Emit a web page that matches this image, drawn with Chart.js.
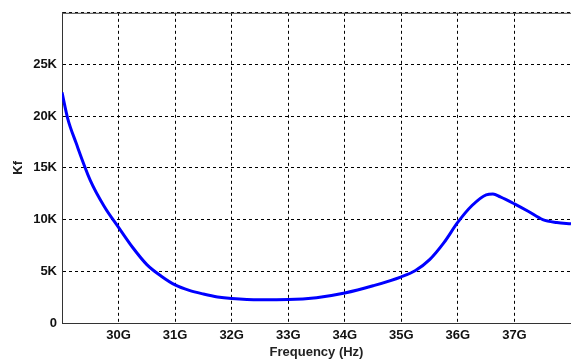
<!DOCTYPE html>
<html>
<head>
<meta charset="utf-8">
<script src="https://cdn.jsdelivr.net/npm/chart.js@4"></script>
<style>
  body { margin: 0; background: #fff; }
  #wrap { width: 571px; height: 360px; }
</style>
</head>
<body>
<div id="wrap"><canvas id="kfChart" width="571" height="360"></canvas></div>
<script>
// frequency in GHz, Kf values
const freqGHz = [29.0, 29.1, 29.25, 29.5, 29.75, 30.0, 30.25, 30.5, 30.75, 31.0, 31.25, 31.5, 31.75, 32.0, 32.5, 33.0, 33.5, 34.0, 34.5, 35.0, 35.25, 35.5, 35.75, 36.0, 36.25, 36.5, 36.62, 36.75, 37.0, 37.25, 37.5, 37.75, 38.0];
const kfValues = [22300, 19800, 17400, 13800, 11250, 9250, 7300, 5650, 4550, 3680, 3150, 2800, 2520, 2370, 2250, 2270, 2450, 2900, 3600, 4470, 5080, 6130, 7750, 9750, 11360, 12400, 12480, 12200, 11520, 10780, 10000, 9720, 9600];

const xTickLabels = ['30G', '31G', '32G', '33G', '34G', '35G', '36G', '37G'];
const yTickLabels = ['0', '5K', '10K', '15K', '20K', '25K'];

const points = freqGHz.map((f, i) => ({ x: f, y: kfValues[i] }));

const tickFont = { family: 'Liberation Sans, Arial, sans-serif', size: 13, weight: 'bold' };

// draws the top frame line of the plot box
const topBorder = {
  id: 'topBorder',
  afterDraw(chart) {
    const { ctx, chartArea } = chart;
    ctx.save();
    ctx.strokeStyle = '#444';
    ctx.lineWidth = 1;
    ctx.beginPath();
    ctx.moveTo(chartArea.left, chartArea.top + 0.5);
    ctx.lineTo(chartArea.right, chartArea.top + 0.5);
    ctx.stroke();
    ctx.restore();
  }
};

const ctx = document.getElementById('kfChart').getContext('2d');
const myChart = new Chart(ctx, {
  type: 'line',
  data: {
    datasets: [{
      label: 'Kf',
      data: points,
      borderColor: '#0000ff',
      borderWidth: 3,
      pointRadius: 0,
      fill: false,
      cubicInterpolationMode: 'monotone'
    }]
  },
  options: {
    responsive: false,
    animation: false,
    layout: { padding: { top: 10, right: 0, left: 0, bottom: 0 } },
    plugins: {
      legend: { display: false },
      tooltip: { enabled: false }
    },
    scales: {
      x: {
        type: 'linear',
        min: 29,
        max: 38,
        afterFit: (scale) => {
          scale.height = 37;
          scale.paddingRight = 0;
          scale.paddingLeft = 0;
        },
        ticks: {
          stepSize: 1,
          color: '#111',
          font: tickFont,
          padding: 5,
          maxRotation: 0,
          callback: (v) => {
            const idx = v - 30;
            return (idx >= 0 && idx < xTickLabels.length) ? xTickLabels[idx] : '';
          }
        },
        grid: { color: '#000', lineWidth: 1, drawTicks: false },
        border: { color: '#333', width: 1, dash: [3, 3] },
        title: {
          display: true,
          text: 'Frequency (Hz)',
          color: '#222',
          font: tickFont,
          padding: { top: 0, bottom: 0 }
        }
      },
      y: {
        min: 0,
        max: 30000,
        afterFit: (scale) => { scale.width = 62; },
        ticks: {
          stepSize: 5000,
          color: '#111',
          font: tickFont,
          padding: 5,
          callback: (v) => {
            const idx = v / 5000;
            return idx < yTickLabels.length ? yTickLabels[idx] : '';
          }
        },
        grid: { color: '#000', lineWidth: 1, drawTicks: false },
        border: { color: '#333', width: 1, dash: [3, 3] },
        title: {
          display: true,
          text: 'Kf',
          color: '#222',
          font: tickFont,
          padding: { top: 11, bottom: 0 }
        }
      }
    }
  },
  plugins: [topBorder]
});
</script>
</body>
</html>
